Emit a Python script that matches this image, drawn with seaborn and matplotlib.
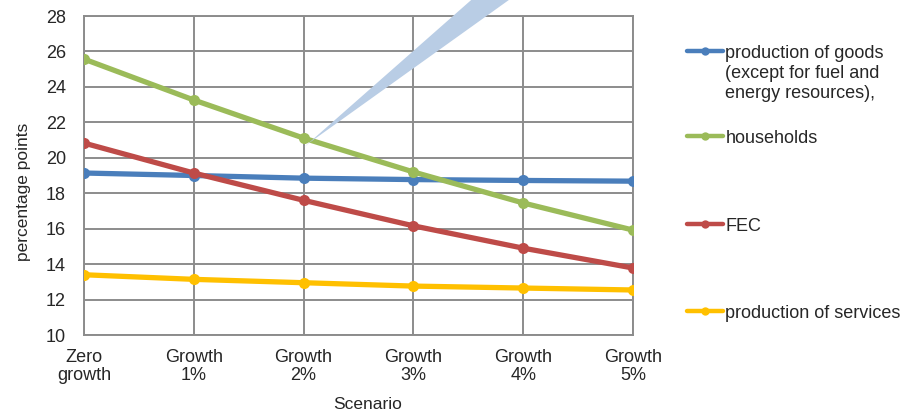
import numpy as np
import pandas as pd
import matplotlib
matplotlib.use('Agg')
import matplotlib.pyplot as plt
import seaborn as sns

# data
scenarios = ['Zero\ngrowth', 'Growth\n1%', 'Growth\n2%', 'Growth\n3%', 'Growth\n4%', 'Growth\n5%']
goods = [19.14, 19.0, 18.85, 18.77, 18.72, 18.68]
households = [25.57, 23.26, 21.11, 19.2, 17.45, 15.92]
fec = [20.83, 19.14, 17.6, 16.16, 14.9, 13.78]
services = [13.4, 13.14, 12.95, 12.76, 12.65, 12.54]

series_names = ['production of goods', 'households', 'FEC', 'production of services']
colors = ['#4A7EBB', '#9BBB59', '#BE4B48', '#FFC000']

sns.set_style('white')
plt.rcParams['font.family'] = ['Liberation Sans', 'DejaVu Sans']

rows = []
for name, vals in zip(series_names, [goods, households, fec, services]):
    for i, v in enumerate(vals):
        rows.append({'pos': i, 'value': v, 'series': name})
df = pd.DataFrame(rows)

fig = plt.figure(figsize=(9.19, 4.15), dpi=100)
ax = fig.add_axes([84 / 919, 1 - 335 / 415, (633 - 84) / 919, (335 - 16) / 415])

sns.lineplot(data=df, x='pos', y='value', hue='series', hue_order=series_names,
             palette=colors, marker='o', markersize=8, markeredgewidth=0,
             linewidth=3.8, ax=ax, sort=False, zorder=3)

ax.set_xlim(0, len(scenarios) - 1)
ax.set_ylim(10, 28)
ax.set_yticks(np.arange(10, 29, 2))
ax.set_xticks(range(len(scenarios)))
ax.set_xticklabels(scenarios, fontsize=13, linespacing=1.1)
ax.tick_params(axis='y', labelsize=13, length=0, pad=13)
ax.tick_params(axis='x', length=0, pad=10)
ax.grid(True, color='#8c8c8c', linewidth=1.4)
for sp in ax.spines.values():
    sp.set_color('#8c8c8c')
    sp.set_linewidth(1.4)
ax.set_xlabel('Scenario', fontsize=12.5)
ax.set_ylabel('percentage points', fontsize=12.5)
ax.xaxis.set_label_coords((368 - 84) / 549, -(397 - 335) / 319)
ax.yaxis.set_label_coords((31 - 84) / 549, (335 - 192) / 319)

# light blue callout wedge left in the original
wedge = plt.Polygon([(1.995, 20.55), (3.535, 28.95), (3.88, 28.95), (2.06, 20.88)],
                    closed=True, facecolor='#B9CDE5', edgecolor='none',
                    clip_on=False, zorder=4)
ax.add_patch(wedge)

# legend, one entry per series placed like the original
handles, labels = ax.get_legend_handles_labels()
ax.get_legend().remove()
for h in handles:
    h.set_linewidth(3.2)
    h.set_markersize(6)
ypix = [53, 138, 226, 313]
for h, lab, yp in zip(handles, labels, ypix):
    fig.legend([h], [lab], loc='center left',
               bbox_to_anchor=(687 / 919, 1 - yp / 415),
               frameon=False, fontsize=13, handlelength=2.0,
               handletextpad=0.12, borderpad=0, borderaxespad=0)
fig.text(725 / 919, 1 - 73 / 415, '(except for fuel and', fontsize=13, va='center')
fig.text(725 / 919, 1 - 93 / 415, 'energy resources),', fontsize=13, va='center')

fig.savefig('out.png', dpi=100)
